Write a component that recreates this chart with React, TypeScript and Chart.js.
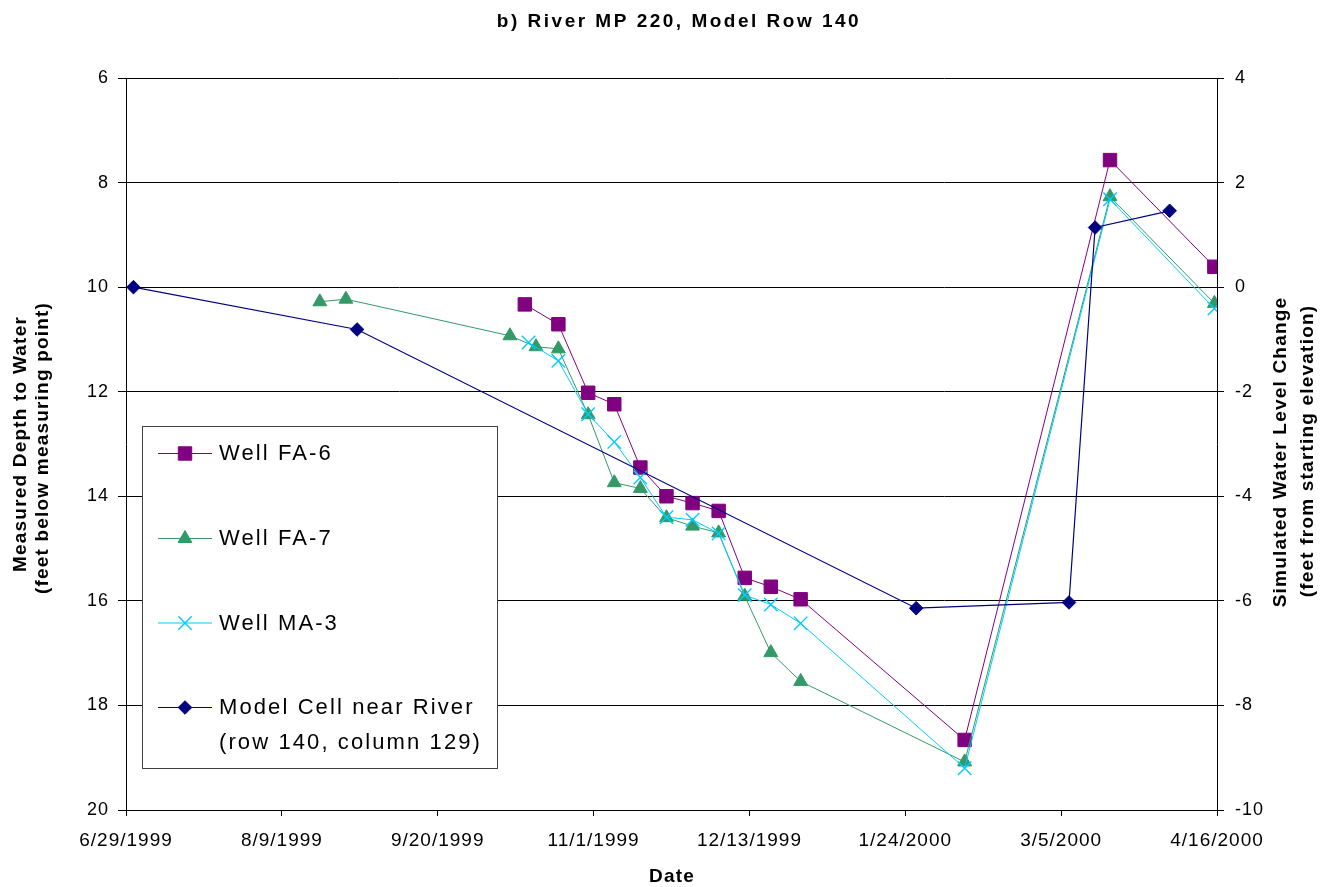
import React, { useEffect, useRef } from 'react';
import { Chart, registerables } from 'chart.js';
import { drawPoint } from 'chart.js/helpers';

Chart.register(...registerables);

// ---------------- data ----------------
const AXIS_START = '1999-06-29';
const X_TICK_STEP_DAYS = 41.815;
const X_TICK_COUNT = 7;

const fa6Dates = [
  '1999-10-14', '1999-10-23', '1999-10-31', '1999-11-07', '1999-11-14', '1999-11-21',
  '1999-11-28', '1999-12-05', '1999-12-12', '1999-12-19', '1999-12-27', '2000-02-09',
  '2000-03-19', '2000-04-16',
];
const fa6Depth = [10.33, 10.71, 12.02, 12.24, 13.45, 14.0, 14.13, 14.28, 15.56, 15.73, 15.97, 18.66, 7.57, 9.61];

const fa7Dates = [
  '1999-08-20', '1999-08-27', '1999-10-10', '1999-10-17', '1999-10-23', '1999-10-31',
  '1999-11-07', '1999-11-14', '1999-11-21', '1999-11-28', '1999-12-05', '1999-12-12',
  '1999-12-19', '1999-12-27', '2000-02-09', '2000-03-19', '2000-04-16',
];
const fa7Depth = [10.28, 10.23, 10.93, 11.14, 11.18, 12.44, 13.74, 13.85, 14.41, 14.57, 14.7, 15.91, 16.99, 17.54, 19.08, 8.27, 10.31];

const ma3Dates = [
  '1999-10-15', '1999-10-23', '1999-10-31', '1999-11-07', '1999-11-14', '1999-11-21',
  '1999-11-28', '1999-12-05', '1999-12-12', '1999-12-19', '1999-12-27', '2000-02-09',
  '2000-03-19', '2000-04-16',
];
const ma3Depth = [11.06, 11.41, 12.43, 12.96, 13.64, 14.4, 14.45, 14.71, 15.89, 16.07, 16.43, 19.2, 8.32, 10.41];

const modelDates = ['1999-07-01', '1999-08-30', '2000-01-27', '2000-03-08', '2000-03-15', '2000-04-04'];
const modelChange = [0.0, -0.81, -6.14, -6.03, 1.14, 1.46];

const depthMin = 6;
const depthMax = 20;
const changeMin = -10;
const changeMax = 4;
const tickStep = 2;

const seriesNames = ['Well FA-6', 'Well FA-7', 'Well MA-3', 'Model Cell near River'];
const modelNameLine2 = '(row 140, column 129)';

const titleText = 'b) River MP 220, Model Row 140';
const leftTitle = ['Measured Depth to Water', '(feet below measuring point)'];
const rightTitle = ['Simulated Water Level Change', '(feet from starting elevation)'];
const xTitle = 'Date';

// ---------------- styles ----------------
const PURPLE = '#800080';
const GREEN = '#339966';
const CYAN = '#00CCFF';
const NAVY = '#000080';
const FONT = "'Liberation Sans', Arial, Helvetica, sans-serif";

const DAY_MS = 86400000;
const parseUTC = (s: string) => {
  const [y, m, d] = s.split('-').map(Number);
  return Date.UTC(y, m - 1, d);
};
const START_MS = parseUTC(AXIS_START);
const dayOf = (s: string) => (parseUTC(s) - START_MS) / DAY_MS;
const formatDay = (v: number) => {
  const dt = new Date(START_MS + Math.floor(v + 1e-6) * DAY_MS);
  return `${dt.getUTCMonth() + 1}/${dt.getUTCDate()}/${dt.getUTCFullYear()}`;
};
const toPoints = (dates: string[], vals: number[]) => dates.map((d, i) => ({ x: dayOf(d), y: vals[i] }));

const X_MAX = X_TICK_STEP_DAYS * X_TICK_COUNT;

const legendRows = [
  { lines: [seriesNames[0]], color: PURPLE, pointStyle: 'rect', radius: 9.5, y: 453 },
  { lines: [seriesNames[1]], color: GREEN, pointStyle: 'triangle', radius: 8, y: 538 },
  { lines: [seriesNames[2]], color: CYAN, pointStyle: 'crossRot', radius: 9.5, y: 622.5 },
  { lines: [seriesNames[3], modelNameLine2], color: NAVY, pointStyle: 'rectRot', radius: 6.8, y: 707 },
];

const decorPlugin = {
  id: 'decor',
  beforeDraw(chart: any) {
    const ctx = chart.ctx as CanvasRenderingContext2D;
    (ctx as any).letterSpacing = '1px';
  },
  afterDraw(chart: any) {
    const ctx = chart.ctx as CanvasRenderingContext2D;
    ctx.save();
    ctx.fillStyle = '#000';
    ctx.textBaseline = 'middle';
    ctx.textAlign = 'center';

    // title
    (ctx as any).letterSpacing = '2.5px';
    ctx.font = `bold 19px ${FONT}`;
    ctx.fillText(titleText, 679, 22);

    // axis titles
    (ctx as any).letterSpacing = '1.2px';
    ctx.font = `bold 19px ${FONT}`;
    ctx.fillText(xTitle, 672, 877);

    const drawRot = (text: string, x: number, y: number) => {
      ctx.save();
      ctx.translate(x, y);
      ctx.rotate(-Math.PI / 2);
      ctx.fillText(text, 0, 0);
      ctx.restore();
    };
    drawRot(leftTitle[0], 21, 444);
    drawRot(leftTitle[1], 43, 448);
    drawRot(rightTitle[0], 1281, 452);
    drawRot(rightTitle[1], 1308, 451);

    // legend
    (ctx as any).letterSpacing = '0px';
    ctx.fillStyle = '#ffffff';
    ctx.fillRect(142, 426, 355, 342);
    ctx.strokeStyle = '#404040';
    ctx.lineWidth = 1;
    ctx.strokeRect(142.5, 426.5, 355, 342);

    legendRows.forEach((row) => {
      ctx.strokeStyle = row.color;
      ctx.lineWidth = 1;
      ctx.beginPath();
      ctx.moveTo(158, row.y + 0.5);
      ctx.lineTo(212, row.y + 0.5);
      ctx.stroke();
      ctx.fillStyle = row.color;
      ctx.strokeStyle = row.color;
      ctx.lineWidth = row.pointStyle === 'crossRot' ? 1.4 : 1;
      drawPoint(ctx, { pointStyle: row.pointStyle, radius: row.radius, borderWidth: 1, rotation: 0 } as any, 185, row.y + 0.5);
      ctx.fillStyle = '#000';
      ctx.font = `22px ${FONT}`;
      ctx.textAlign = 'left';
      (ctx as any).letterSpacing = '2.1px';
      row.lines.forEach((ln, i) => ctx.fillText(ln, 219, row.y + 1 + i * 34.5));
      (ctx as any).letterSpacing = '0px';
    });
    ctx.restore();
    (ctx as any).letterSpacing = '0px';
  },
};

export default function App() {
  const ref = useRef<HTMLCanvasElement>(null);
  useEffect(() => {
    const prev = document.body.style.margin;
    document.body.style.margin = '0';
    const xTickFont = { family: FONT, size: 19 };
    const yTickFont = { family: FONT, size: 18 };
    const chart = new Chart(ref.current as HTMLCanvasElement, {
      type: 'line',
      data: {
        datasets: [
          {
            label: seriesNames[0],
            data: toPoints(fa6Dates, fa6Depth),
            yAxisID: 'y',
            borderColor: PURPLE,
            backgroundColor: PURPLE,
            borderWidth: 1,
            pointStyle: 'rect',
            pointRadius: 9.5,
            pointBorderWidth: 1,
            order: 4,
          },
          {
            label: seriesNames[1],
            data: toPoints(fa7Dates, fa7Depth),
            yAxisID: 'y',
            borderColor: GREEN,
            backgroundColor: GREEN,
            borderWidth: 1,
            pointStyle: 'triangle',
            pointRadius: 8,
            pointBorderWidth: 1,
            order: 3,
          },
          {
            label: seriesNames[2],
            data: toPoints(ma3Dates, ma3Depth),
            yAxisID: 'y',
            borderColor: CYAN,
            backgroundColor: CYAN,
            borderWidth: 1,
            pointStyle: 'crossRot',
            pointRadius: 9.5,
            pointBorderWidth: 1.4,
            order: 2,
          },
          {
            label: seriesNames[3],
            data: toPoints(modelDates, modelChange),
            yAxisID: 'y1',
            borderColor: NAVY,
            backgroundColor: NAVY,
            borderWidth: 1.2,
            pointStyle: 'rectRot',
            pointRadius: 6.8,
            pointBorderWidth: 1,
            order: 1,
          },
        ] as any,
      },
      options: {
        responsive: false,
        animation: false,
        devicePixelRatio: 1,
        events: [],
        layout: { padding: { top: 78, left: 0, right: 0, bottom: 0 } },
        elements: { line: { tension: 0 } },
        plugins: { legend: { display: false }, tooltip: { enabled: false }, title: { display: false } },
        scales: {
          x: {
            type: 'linear',
            min: 0,
            max: X_MAX,
            afterBuildTicks: (scale: any) => {
              const t = [];
              for (let k = 0; k <= X_TICK_COUNT; k++) t.push({ value: k * X_TICK_STEP_DAYS });
              scale.ticks = t;
            },
            afterFit: (s: any) => { s.height = 77; },
            ticks: {
              callback: (v: any) => formatDay(Number(v)),
              font: xTickFont,
              color: '#000',
              padding: 13,
              maxRotation: 0,
              minRotation: 0,
              autoSkip: false,
            },
            grid: { drawOnChartArea: false, drawTicks: true, tickLength: 6, color: '#000', lineWidth: 1 },
            border: { display: true, color: '#000', width: 1 },
          },
          y: {
            type: 'linear',
            position: 'left',
            reverse: true,
            min: depthMin,
            max: depthMax,
            afterFit: (s: any) => { s.width = 126; },
            ticks: { stepSize: tickStep, font: yTickFont, color: '#000', padding: 9 },
            grid: { color: '#000', lineWidth: 1, drawTicks: true, tickLength: 8 },
            border: { display: true, color: '#000', width: 1 },
          },
          y1: {
            type: 'linear',
            position: 'right',
            min: changeMin,
            max: changeMax,
            afterFit: (s: any) => { s.width = 105; },
            ticks: { stepSize: tickStep, font: yTickFont, color: '#000', padding: 11 },
            grid: { drawOnChartArea: false, drawTicks: true, tickLength: 7, color: '#000', lineWidth: 1 },
            border: { display: true, color: '#000', width: 1 },
          },
        },
      } as any,
      plugins: [decorPlugin as any],
    });
    return () => {
      chart.destroy();
      document.body.style.margin = prev;
    };
  }, []);
  return (
    <div style={{ width: 1322, height: 887, background: '#fff' }}>
      <canvas ref={ref} width={1322} height={887} style={{ display: 'block', width: 1322, height: 887 }} />
    </div>
  );
}
